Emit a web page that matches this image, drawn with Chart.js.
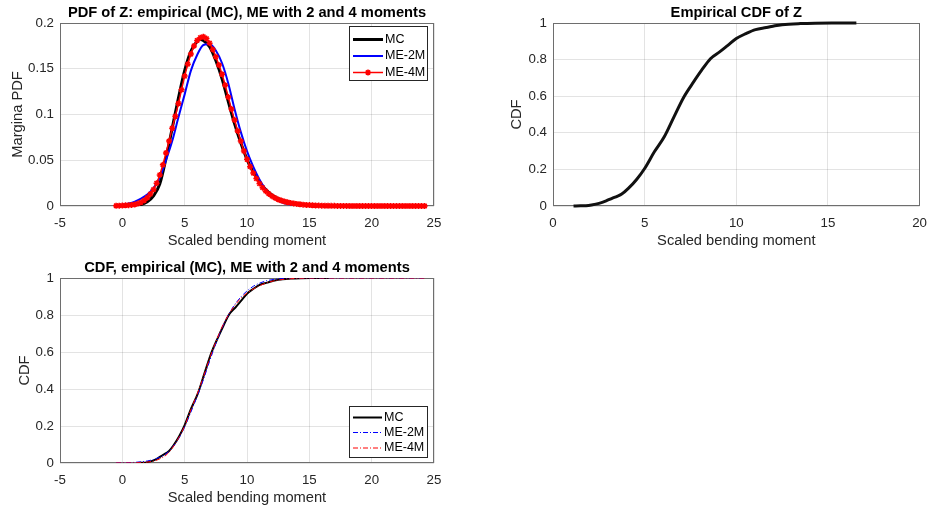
<!DOCTYPE html>
<html>
<head>
<meta charset="utf-8">
<script src="https://cdn.jsdelivr.net/npm/chart.js@4.4.1/dist/chart.umd.min.js"></script>
<style>
  body { margin: 0; background: #fff; }
  #wrap { position: relative; width: 936px; height: 510px; }
  canvas { position: absolute; }
</style>
</head>
<body>
<div id="wrap">
  <canvas id="pdf-chart" width="470" height="250" style="left:0;top:0"></canvas>
  <canvas id="ecdf-chart" width="466" height="250" style="left:470px;top:0"></canvas>
  <canvas id="cdf-chart" width="470" height="260" style="left:0;top:250px"></canvas>
</div>
<script>
'use strict';
// ******* DATA ********
// PDF of Z, empirical (MC) kernel estimate
let zPdfMC = [0.5, 1, 1.5, 2, 2.5, 3, 3.5, 4, 4.5, 5, 5.5, 6, 6.25, 6.5, 7, 7.5, 8, 8.5, 9, 9.5,
  10, 10.5, 11, 11.5, 12, 12.5, 13, 13.5, 14, 14.5, 15, 15.5, 16, 16.5, 17];
let pdfMC = [0.0001, 0.0004, 0.0015, 0.0045, 0.011, 0.024, 0.052, 0.085, 0.118, 0.148, 0.169, 0.180, 0.182, 0.181,
  0.174, 0.159, 0.139, 0.114, 0.090, 0.069, 0.051, 0.037, 0.026, 0.018, 0.012, 0.008, 0.0055, 0.0036,
  0.0023, 0.0014, 0.0008, 0.0004, 0.0002, 0.0001, 0];

// PDF, maximum entropy with 2 moments
let zPdf2M = [-0.5, 0, 0.5, 1, 1.5, 2, 2.5, 3, 3.5, 4, 4.5, 5, 5.5, 6, 6.5, 7, 7.5, 8, 8.5, 9, 9.5,
  10, 10.5, 11, 11.5, 12, 12.5, 13, 13.5, 14, 14.5, 15, 15.5, 16, 24.25];
let pdf2M = [0.0008, 0.0015, 0.0028, 0.0048, 0.008, 0.0125, 0.0195, 0.031, 0.05, 0.071,
  0.097, 0.122, 0.148, 0.165, 0.176, 0.177, 0.170, 0.156, 0.134, 0.106,
  0.081, 0.060, 0.043, 0.029, 0.018, 0.0105, 0.0058, 0.003, 0.0015, 0.0007,
  0.0003, 0.0001, 0, 0, 0];

// PDF, maximum entropy with 4 moments
let zPdf4M = [-0.5, -0.25, 0, 0.25, 0.5, 0.75, 1, 1.25, 1.5, 1.75, 2, 2.25, 2.5, 2.75, 3, 3.25, 3.5, 3.75,
  4, 4.25, 4.5, 4.75, 5, 5.25, 5.5, 5.75, 6, 6.25, 6.5, 6.75, 7, 7.25, 7.5, 7.75, 8, 8.25, 8.5, 8.75,
  9, 9.25, 9.5, 9.75, 10, 10.25, 10.5, 10.75, 11, 11.25, 11.5, 11.75, 12, 12.25, 12.5, 12.75,
  13, 13.25, 13.5, 13.75, 14, 14.25, 14.5, 14.75, 15, 15.25, 15.5, 15.75, 16, 16.25, 16.5, 16.75,
  17, 17.25, 17.5, 17.75, 18, 18.25, 18.5, 18.75, 19, 19.25, 19.5, 19.75, 20, 20.25, 20.5, 20.75,
  21, 21.25, 21.5, 21.75, 22, 22.25, 22.5, 22.75, 23, 23.25, 23.5, 23.75, 24, 24.25];
let pdf4M = [0.0003, 0.0004, 0.0005, 0.0007, 0.0009, 0.0012, 0.0017, 0.0026, 0.004, 0.006,
  0.009, 0.013, 0.018, 0.025, 0.034, 0.045, 0.058, 0.071, 0.085, 0.098,
  0.112, 0.127, 0.142, 0.155, 0.166, 0.175, 0.181, 0.184, 0.185, 0.183,
  0.178, 0.171, 0.163, 0.154, 0.144, 0.132, 0.119, 0.106, 0.094, 0.082,
  0.071, 0.060, 0.051, 0.043, 0.036, 0.030, 0.0245, 0.0200, 0.0162, 0.0132,
  0.0107, 0.0088, 0.0072, 0.0060, 0.0050, 0.0041, 0.0034, 0.0028, 0.0023, 0.0019,
  0.0015, 0.0012, 0.0010, 0.0008, 0.0006, 0.0005, 0.0004, 0.0003, 0.0003, 0.0002,
  0.0002, 0.0001, 0.0001, 0.0001, 0.0001, 0, 0, 0, 0, 0,
  0, 0, 0, 0, 0, 0, 0, 0, 0, 0,
  0, 0, 0, 0, 0, 0, 0, 0, 0, 0];

// Empirical CDF of Z (MC samples)
let zEcdf = [1.12, 1.5, 1.8, 2.1, 2.51, 2.9, 3.22, 3.5, 3.75, 4.11, 4.56, 5.0, 5.53, 6.07, 6.6, 7.14,
  7.67, 8.11, 8.59, 9.09, 9.54, 10.0, 10.52, 11.05, 11.64, 12.1, 12.5, 13.5, 14.3, 15.5, 16.55];
let cdfMC = [0, 0.0008, 0.002, 0.006, 0.0145, 0.028, 0.042, 0.053, 0.065, 0.096, 0.145, 0.205, 0.296,
  0.378, 0.487, 0.596, 0.678, 0.742, 0.805, 0.842, 0.878, 0.915, 0.942, 0.964, 0.975, 0.985, 0.991,
  0.997, 0.999, 0.9995, 1];

// CDF from the maximum entropy fits
let zCdfME = [-0.5, 0, 0.5, 1, 1.5, 2, 2.5, 3, 3.5, 4, 4.5, 5, 5.5, 6, 6.5, 7, 7.5, 8, 8.5, 9, 9.5,
  10, 10.5, 11, 11.5, 12, 12.5, 13, 13.5, 14, 14.5, 15, 15.5, 16, 24.25];
let cdf2M = [0.0003, 0.0008, 0.0018, 0.0035, 0.0065, 0.011, 0.019, 0.031, 0.05, 0.083,
  0.13, 0.195, 0.275, 0.36, 0.45, 0.55, 0.645, 0.73, 0.80, 0.855,
  0.897, 0.93, 0.955, 0.972, 0.984, 0.991, 0.995, 0.9975, 0.999, 0.9995,
  1, 1, 1, 1, 1];
let cdf4M = [0, 0.0002, 0.0005, 0.001, 0.002, 0.005, 0.01, 0.022, 0.042, 0.080,
  0.134, 0.200, 0.288, 0.372, 0.465, 0.565, 0.655, 0.735, 0.800, 0.850,
  0.890, 0.918, 0.940, 0.958, 0.972, 0.982, 0.989, 0.993, 0.996, 0.998,
  0.999, 0.9995, 1, 1, 1];

let seriesNames = ['MC', 'ME-2M', 'ME-4M'];


// ******* STYLE ********
const FONT = '"Liberation Sans", Arial, Helvetica, sans-serif';
const GRID = 'rgba(38,38,38,0.13)';
Chart.defaults.font.family = FONT;
Chart.defaults.color = '#262626';


// ******* HELPERS ********
function pairs(xs, ys) {
  return xs.map((x, i) => ({ x: x, y: ys[i] }));
}

// MATLAB style tick text: 0.2 not 0.20, 1 not 1.0
function plainTick(v) {
  return String(Number(v.toFixed(4)));
}

// draws the box round the plot area
const frameBox = {
  id: 'frameBox',
  beforeDatasetsDraw(chart) {
    const a = chart.chartArea;
    const ctx = chart.ctx;
    ctx.save();
    ctx.strokeStyle = '#6e6e6e';
    ctx.lineWidth = 1;
    ctx.strokeRect(Math.round(a.left) + 0.5, Math.round(a.top) + 0.5,
      Math.round(a.right - a.left) - 1, Math.round(a.bottom - a.top) - 1);
    ctx.restore();
  }
};

function drawStar(ctx, x, y, r) {
  ctx.beginPath();
  ctx.moveTo(x - r, y); ctx.lineTo(x + r, y);
  ctx.moveTo(x, y - r); ctx.lineTo(x, y + r);
  let d = r * 0.707;
  ctx.moveTo(x - d, y - d); ctx.lineTo(x + d, y + d);
  ctx.moveTo(x - d, y + d); ctx.lineTo(x + d, y - d);
  ctx.stroke();
}

// boxed legend inside the axes
const boxLegend = {
  id: 'boxLegend',
  afterDraw(chart, args, opts) {
    if (!opts || !opts.rowY) return;
    const ctx = chart.ctx;
    ctx.save();
    ctx.fillStyle = '#fff';
    ctx.fillRect(opts.left, opts.top, opts.width, opts.height);
    ctx.strokeStyle = '#262626';
    ctx.lineWidth = 1;
    ctx.strokeRect(opts.left, opts.top, opts.width, opts.height);
    ctx.font = '12.5px ' + FONT;
    ctx.textBaseline = 'middle';
    chart.data.datasets.forEach(function(ds, i) {
      let y = opts.rowY[i];
      ctx.strokeStyle = ds.borderColor;
      ctx.lineWidth = ds.borderWidth;
      ctx.setLineDash(ds.borderDash || []);
      ctx.beginPath();
      ctx.moveTo(opts.lineX0, y);
      ctx.lineTo(opts.lineX1, y);
      ctx.stroke();
      ctx.setLineDash([]);
      if (ds.pointRadius) {
        ctx.lineWidth = ds.pointBorderWidth || 1;
        drawStar(ctx, (opts.lineX0 + opts.lineX1) / 2, y, ds.pointRadius);
      }
      ctx.fillStyle = '#000';
      ctx.fillText(ds.label, opts.textX, y);
    });
    ctx.restore();
  }
};

function makeScales(c) {
  return {
    x: {
      type: 'linear', position: 'bottom', min: c.xMin, max: c.xMax,
      afterFit: function(s) { s.height = c.xAxisH; },
      ticks: { stepSize: c.xStep, padding: 9, font: { size: 13.3 }, color: '#262626',
        maxRotation: 0, callback: plainTick },
      grid: { color: GRID, drawTicks: false },
      border: { display: false },
      title: { display: true, text: 'Scaled bending moment', color: '#262626',
        font: { size: 14.7 }, padding: { top: 0, bottom: c.xTitlePad } }
    },
    y: {
      type: 'linear', min: c.yMin, max: c.yMax,
      afterFit: function(s) { s.width = c.yAxisW; },
      ticks: { stepSize: c.yStep, padding: 6, font: { size: 13.3 }, color: '#262626',
        callback: plainTick },
      grid: { color: GRID, drawTicks: false },
      border: { display: false },
      title: { display: true, text: c.yTitle, color: '#262626',
        font: { size: 14.7 }, padding: { top: c.yTitlePad, bottom: 0 } }
    },
    head: {
      type: 'linear', position: 'top', min: 0, max: 1,
      afterFit: function(s) { s.height = c.headH; },
      ticks: { display: false },
      grid: { display: false, drawTicks: false },
      border: { display: false },
      title: { display: true, text: c.title, color: '#000',
        font: { size: 14.7, weight: 'bold' }, padding: { top: c.titlePad, bottom: 0 } }
    }
  };
}

function baseOptions(c, legendBox) {
  return {
    responsive: false,
    animation: false,
    devicePixelRatio: 1,
    layout: { padding: { left: 0, right: c.padRight, top: 0, bottom: 0 } },
    plugins: {
      legend: { display: false },
      tooltip: { enabled: false },
      boxLegend: legendBox || false
    },
    scales: makeScales(c)
  };
}


// ******* PDF CHART ********
new Chart(document.getElementById('pdf-chart'), {
  type: 'line',
  data: {
    datasets: [{
      label: seriesNames[0],
      data: pairs(zPdfMC, pdfMC),
      borderColor: '#000', borderWidth: 3, pointRadius: 0,
      cubicInterpolationMode: 'monotone', order: 3
    }, {
      label: seriesNames[1],
      data: pairs(zPdf2M, pdf2M),
      borderColor: '#0000ff', borderWidth: 2, pointRadius: 0,
      cubicInterpolationMode: 'monotone', order: 2
    }, {
      label: seriesNames[2],
      data: pairs(zPdf4M, pdf4M),
      borderColor: '#ff0000', borderWidth: 1.5,
      pointStyle: 'star', pointRadius: 3, pointBorderWidth: 1.5,
      pointBorderColor: '#ff0000', pointBackgroundColor: '#ff0000',
      cubicInterpolationMode: 'monotone', order: 1, clip: false
    }]
  },
  options: baseOptions({
    xMin: -5, xMax: 25, xStep: 5, yMin: 0, yMax: 0.2, yStep: 0.05,
    yTitle: 'Margina PDF', title: 'PDF of Z: empirical (MC), ME with 2 and 4 moments',
    xAxisH: 44, yAxisW: 60, headH: 23, padRight: 36,
    xTitlePad: 0.5, yTitlePad: 8.7, titlePad: 4.2
  }, {
    left: 349.5, top: 26.5, width: 78, height: 54,
    lineX0: 353, lineX1: 383, textX: 385, rowY: [39.5, 56, 72.5]
  }),
  plugins: [frameBox, boxLegend]
});


// ******* EMPIRICAL CDF CHART ********
new Chart(document.getElementById('ecdf-chart'), {
  type: 'line',
  data: {
    datasets: [{
      label: 'Empirical CDF',
      data: pairs(zEcdf, cdfMC),
      borderColor: '#111', borderWidth: 3, pointRadius: 0,
      cubicInterpolationMode: 'monotone', clip: false
    }]
  },
  options: baseOptions({
    xMin: 0, xMax: 20, xStep: 5, yMin: 0, yMax: 1, yStep: 0.2,
    yTitle: 'CDF', title: 'Empirical CDF of Z',
    xAxisH: 44, yAxisW: 83, headH: 23, padRight: 10,
    xTitlePad: 0.5, yTitlePad: 37.9, titlePad: 4.2
  }, null),
  plugins: [frameBox]
});


// ******* CDF COMPARISON CHART ********
new Chart(document.getElementById('cdf-chart'), {
  type: 'line',
  data: {
    datasets: [{
      label: seriesNames[0],
      data: pairs(zEcdf, cdfMC),
      borderColor: '#000', borderWidth: 2, pointRadius: 0,
      cubicInterpolationMode: 'monotone', order: 3
    }, {
      label: seriesNames[1],
      data: pairs(zCdfME, cdf2M),
      borderColor: '#0000ff', borderWidth: 1, borderDash: [5, 2, 1, 2], pointRadius: 0,
      cubicInterpolationMode: 'monotone', order: 2
    }, {
      label: seriesNames[2],
      data: pairs(zCdfME, cdf4M),
      borderColor: '#ff0000', borderWidth: 1, borderDash: [5, 2, 1, 2], pointRadius: 0,
      cubicInterpolationMode: 'monotone', order: 1
    }]
  },
  options: baseOptions({
    xMin: -5, xMax: 25, xStep: 5, yMin: 0, yMax: 1, yStep: 0.2,
    yTitle: 'CDF', title: 'CDF, empirical (MC), ME with 2 and 4 moments',
    xAxisH: 47, yAxisW: 60, headH: 28, padRight: 36,
    xTitlePad: 3.6, yTitlePad: 16.2, titlePad: 8.8
  }, {
    left: 349.5, top: 156.5, width: 78, height: 51,
    lineX0: 353, lineX1: 382, textX: 384, rowY: [167.5, 182.5, 198]
  }),
  plugins: [frameBox, boxLegend]
});
</script>
</body>
</html>
